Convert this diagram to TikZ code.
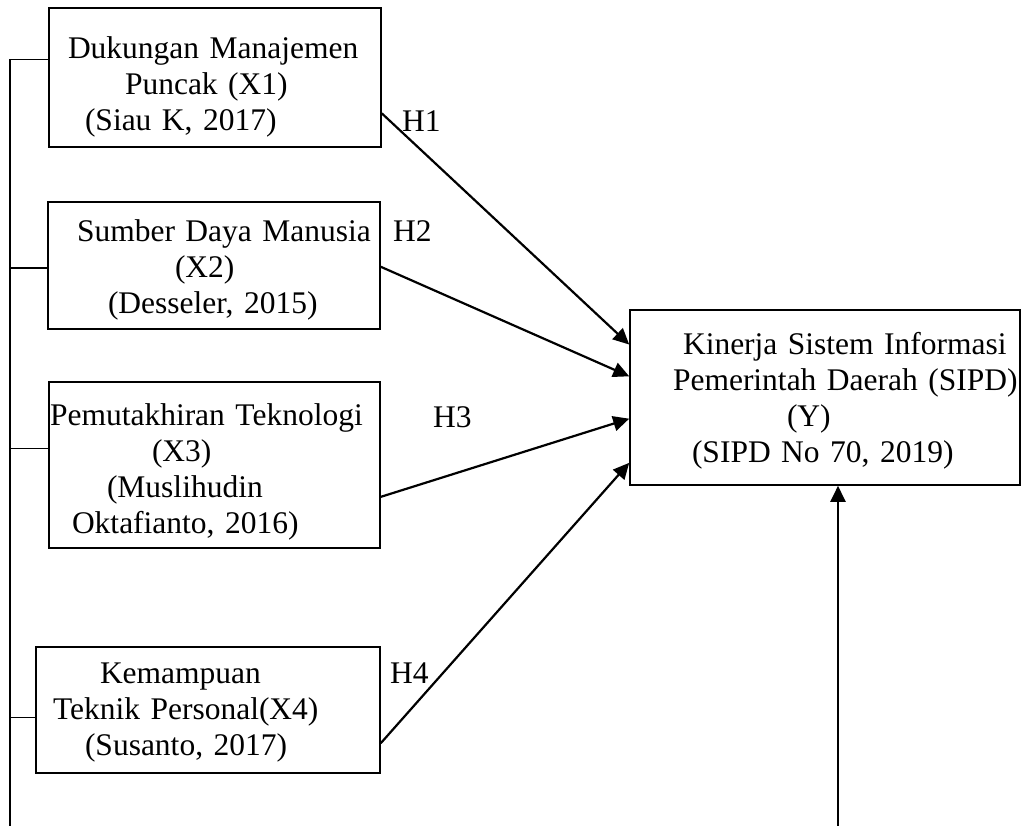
\documentclass[tikz,border=0pt]{standalone}
\usepackage{fontspec}
\setmainfont{Liberation Serif}
\usetikzlibrary{arrows.meta,positioning,calc}

\begin{document}
\begin{tikzpicture}[
  x=1pt, y=-1pt,
  >={Triangle[length=16pt,width=15pt]},
  varbox/.style={
    draw=black,
    line width=1.6pt,
    inner sep=0pt,
    align=left,
    font=\fontsize{31.5}{36}\selectfont
  },
  hyplabel/.style={
    anchor=base west,
    inner sep=0pt,
    font=\fontsize{31.5}{36}\selectfont
  },
  relarrow/.style={->, line width=2.2pt},
  busline/.style={line width=1.4pt}
]
  \useasboundingbox (0,0) rectangle (1022,826);

  % Independent variables (left column)
  \node[varbox, text width=332pt, minimum height=139pt] (x1) at (215,77.5) {
    \rule{0pt}{40pt}\hspace*{19pt}Dukungan Manajemen\\
    \hspace*{76pt}Puncak (X1)\\
    \hspace*{36pt}(Siau K, 2017)};

  \node[varbox, text width=332pt, minimum height=127pt] (x2) at (214,265.5) {
    \rule{0pt}{30pt}\hspace*{29pt}Sumber Daya Manusia\\
    \hspace*{127pt}(X2)\\
    \hspace*{60pt}(Desseler, 2015)};

  \node[varbox, text width=331pt, minimum height=166pt] (x3) at (214.5,465) {
    \rule{0pt}{35pt}\hspace*{1pt}Pemutakhiran Teknologi\\
    \hspace*{103pt}(X3)\\
    \hspace*{58pt}(Muslihudin\\
    \hspace*{23pt}Oktafianto, 2016)};

  \node[varbox, text width=344pt, minimum height=126pt] (x4) at (208,710) {
    \rule{0pt}{25pt}\hspace*{64pt}Kemampuan\\
    \hspace*{17pt}Teknik Personal(X4)\\
    \hspace*{49pt}(Susanto, 2017)};

  % Dependent variable
  \node[varbox, text width=390pt, minimum height=175pt] (ybox) at (825,397.5) {
    \rule{0pt}{28pt}\hspace*{53pt}Kinerja Sistem Informasi\\
    \hspace*{43pt}Pemerintah Daerah (SIPD)\\
    \hspace*{157pt}(Y)\\
    \hspace*{62pt}(SIPD No 70, 2019)};

  % Hypothesis arrows
  \draw[relarrow] ($(x1.north east)!0.755!(x1.south east)$) -- ($(ybox.north west)!0.2!(ybox.south west)$);
  \draw[relarrow] ($(x2.north east)!0.51!(x2.south east)$) -- ($(ybox.north west)!0.38!(ybox.south west)$);
  \draw[relarrow] ($(x3.north east)!0.69!(x3.south east)$) -- ($(ybox.north west)!0.62!(ybox.south west)$);
  \draw[relarrow] ($(x4.north east)!0.76!(x4.south east)$) -- ($(ybox.north west)!0.87!(ybox.south west)$);

  \node[hyplabel] (h1) at (402,132) {H1};
  \node[hyplabel] (h2) at (393,242) {H2};
  \node[hyplabel] (h3) at (433,427) {H3};
  \node[hyplabel] (h4) at (390,683) {H4};

  % Left bus joining the four boxes
  \coordinate (busend) at (10,826);
  \coordinate (x2w) at ($(x2.north west)!0.52!(x2.south west)$);
  \coordinate (x3w) at ($(x3.north west)!0.40!(x3.south west)$);
  \coordinate (x4w) at ($(x4.north west)!0.56!(x4.south west)$);
  \draw[busline] ($(x1.north west)!0.374!(x1.south west)$) -| (busend);
  \draw[busline] (x2w) -- (x2w -| busend);
  \draw[busline] (x3w) -- (x3w -| busend);
  \draw[busline] (x4w) -- (x4w -| busend);

  % Line coming up into Y from below
  \coordinate (fbend) at (838,826);
  \draw[relarrow] (fbend) -- (fbend |- ybox.south);

\end{tikzpicture}
\end{document}
